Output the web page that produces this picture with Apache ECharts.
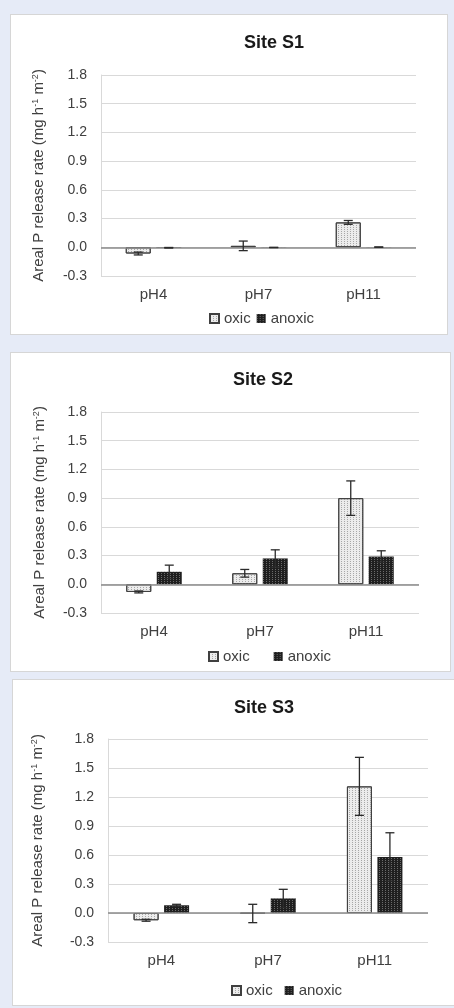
<!DOCTYPE html>
<html>
<head>
<meta charset="utf-8">
<script src="https://cdn.jsdelivr.net/npm/echarts@6/dist/echarts.min.js"></script>
<style>
  html, body { margin: 0; padding: 0; background: #e6ebf7; width: 454px; height: 1008px; overflow: hidden; }
  .panel { position: absolute; background: #fff; border: 1px solid #d6d6d6; box-sizing: border-box; }
  #p1 { left: 10px; top: 14px; width: 438px; height: 321px; }
  #p2 { left: 10px; top: 352px; width: 441px; height: 320px; }
  #p3 { left: 12px; top: 679px; width: 450px; height: 327px; }
</style>
</head>
<body>
<div id="p1" class="panel"></div>
<div id="p2" class="panel"></div>
<div id="p3" class="panel"></div>
<script>
// pH treatments on the x axis
const categories = ['pH4', 'pH7', 'pH11'];
const seriesNames = ['oxic', 'anoxic'];
const yTicks = { min: -0.3, max: 1.8, interval: 0.3 };

// Site S1 — mean areal P release rate and error
const s1Oxic = [-0.065, 0.015, 0.26];
const s1OxicErr = [0.015, 0.05, 0.02];
const s1Anoxic = [-0.005, -0.002, 0.002];
const s1AnoxicErr = [0.003, 0.002, 0.002];

// Site S2
const s2Oxic = [-0.08, 0.115, 0.90];
const s2OxicErr = [0.01, 0.04, 0.18];
const s2Anoxic = [0.13, 0.27, 0.29];
const s2AnoxicErr = [0.07, 0.09, 0.06];

// Site S3
const s3Oxic = [-0.075, -0.005, 1.31];
const s3OxicErr = [0.01, 0.095, 0.30];
const s3Anoxic = [0.08, 0.15, 0.58];
const s3AnoxicErr = [0.01, 0.095, 0.25];

const FONT = '"Liberation Sans", Arial, sans-serif';
const BAR_W = 25;
const BAR_GAP = 0.22;
const OFFSET = (BAR_W + BAR_W * BAR_GAP) / 2;

const oxicStyle = {
  color: '#ececec', borderColor: '#404040', borderWidth: 1,
  decal: { symbol: 'rect', symbolSize: 1, color: '#a8a8a8', dashArrayX: [1, 2], dashArrayY: [1, 1] }
};
const anoxicStyle = {
  color: '#1f1f1f', borderWidth: 0,
  decal: { symbol: 'rect', symbolSize: 1, color: '#6a6a6a', dashArrayX: [1, 2], dashArrayY: [1, 1] }
};

function errorSeries(name, values, errs, offset) {
  return {
    name: name, type: 'custom', z: 10, silent: true,
    data: values.map((v, i) => [i, v, errs[i]]),
    encode: { x: 0, y: 1 },
    renderItem: function (params, api) {
      const i = api.value(0), v = api.value(1), e = api.value(2);
      const hi = api.coord([i, v + e]);
      const lo = api.coord([i, v - e]);
      const x = hi[0] + offset;
      const hw = 4.5;
      const st = { stroke: '#2a2a2a', lineWidth: 1.3 };
      return {
        type: 'group',
        children: [
          { type: 'line', shape: { x1: x, y1: hi[1], x2: x, y2: lo[1] }, style: st },
          { type: 'line', shape: { x1: x - hw, y1: hi[1], x2: x + hw, y2: hi[1] }, style: st },
          { type: 'line', shape: { x1: x - hw, y1: lo[1], x2: x + hw, y2: lo[1] }, style: st }
        ]
      };
    }
  };
}

function buildOption(cfg) {
  return {
    animation: false,
    textStyle: { fontFamily: FONT },
    title: {
      text: cfg.title, left: cfg.titleX, top: cfg.titleY, textAlign: 'center', padding: 0,
      textStyle: { fontFamily: FONT, fontSize: 18, fontWeight: 'bold', color: '#1a1a1a' }
    },
    legend: {
      data: seriesNames, left: cfg.legendX, top: cfg.legendY, padding: 0, icon: 'rect',
      itemWidth: 9, itemHeight: 9, itemGap: cfg.legendGap,
      textStyle: { fontFamily: FONT, fontSize: 15, color: '#404040' }
    },
    grid: { left: cfg.grid[0], top: cfg.grid[1], width: cfg.grid[2], height: cfg.grid[3] },
    xAxis: {
      type: 'category', data: categories,
      axisLine: { show: false, onZero: false }, axisTick: { show: false },
      axisLabel: { fontFamily: FONT, fontSize: 15, color: '#404040', margin: 11 }
    },
    yAxis: {
      type: 'value', min: yTicks.min, max: yTicks.max, interval: yTicks.interval,
      axisLine: { show: true, lineStyle: { color: '#d9d9d9' } }, axisTick: { show: false },
      splitLine: { lineStyle: { color: '#d9d9d9' } },
      axisLabel: { fontFamily: FONT, fontSize: 14, color: '#404040', margin: 14,
                   formatter: v => v.toFixed(1) },
      name: '{t|Areal P release rate (mg h}{s|-1}{t| m}{s|-2}{t|)}',
      nameLocation: 'middle', nameRotate: 90, nameGap: cfg.nameGap,
      nameTextStyle: {
        rich: {
          t: { fontFamily: FONT, fontSize: 15, color: '#404040' },
          s: { fontFamily: FONT, fontSize: 9, color: '#404040', verticalAlign: 'top', padding: [0, 0, 6, 0] }
        }
      }
    },
    series: [
      {
        name: 'oxic', type: 'bar', data: cfg.oxic, barWidth: BAR_W, barGap: (BAR_GAP * 100) + '%',
        itemStyle: oxicStyle,
        markLine: {
          silent: true, symbol: 'none', label: { show: false },
          lineStyle: { color: '#8a8a8a', type: 'solid', width: 1.5 },
          data: [{ yAxis: 0 }]
        }
      },
      { name: 'anoxic', type: 'bar', data: cfg.anoxic, barWidth: BAR_W, itemStyle: anoxicStyle },
      errorSeries('oxic-err', cfg.oxic, cfg.oxicErr, -OFFSET),
      errorSeries('anoxic-err', cfg.anoxic, cfg.anoxicErr, OFFSET)
    ]
  };
}

const panels = [
  { id: 'p1', title: 'Site S1', titleX: 263, titleY: 19, legendX: 198, legendY: 296, legendGap: 6,
    grid: [90, 60, 315, 201], nameGap: 55,
    oxic: s1Oxic, oxicErr: s1OxicErr, anoxic: s1Anoxic, anoxicErr: s1AnoxicErr },
  { id: 'p2', title: 'Site S2', titleX: 252, titleY: 18, legendX: 197, legendY: 296, legendGap: 24,
    grid: [90, 59, 318, 201], nameGap: 54,
    oxic: s2Oxic, oxicErr: s2OxicErr, anoxic: s2Anoxic, anoxicErr: s2AnoxicErr },
  { id: 'p3', title: 'Site S3', titleX: 251, titleY: 19, legendX: 218, legendY: 303, legendGap: 12,
    grid: [95, 59, 320, 203], nameGap: 63,
    oxic: s3Oxic, oxicErr: s3OxicErr, anoxic: s3Anoxic, anoxicErr: s3AnoxicErr }
];

panels.forEach(cfg => {
  const chart = echarts.init(document.getElementById(cfg.id), null, { renderer: 'canvas' });
  chart.setOption(buildOption(cfg));
});
</script>
</body>
</html>
